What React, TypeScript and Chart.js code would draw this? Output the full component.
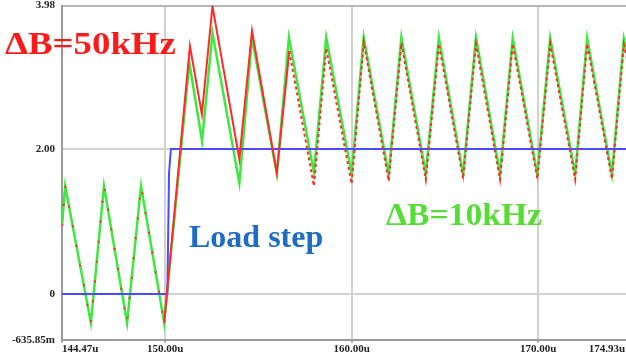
import React, { useEffect, useRef } from "react";
import { Chart, registerables } from "chart.js";

Chart.register(...registerables);

// ---- axis ticks ----
const xTickValues = [144.47, 150, 160, 170, 174.93];
const xTickLabels = ["144.47u", "150.00u", "160.00u", "170.00u", "174.93u"];
const yTickValues = [-0.63585, 0, 2, 3.98];
const yTickLabels = ["-635.85m", "0", "2.00", "3.98"];

// ---- load step (blue) ----
const loadTime = [144.47, 150.12, 150.21, 150.31, 174.93];
const loadCurrent = [0, 0, 1.67, 2.0, 2.0];

// ---- ripple, ΔB = 10 kHz (green) ----
const time10k = [
  144.47, 144.64, 146.02, 146.72, 147.96, 148.71, 149.95, 151.3, 151.98, 152.54,
  153.98, 154.66, 155.99, 156.64, 157.98, 158.64, 160.0, 160.65, 161.99, 162.67,
  163.98, 164.68, 165.98, 166.67, 167.96, 168.64, 169.96, 170.65, 171.99, 172.63,
  173.96, 174.6, 174.93,
];
const ripple10k = [
  0.94, 1.49, -0.4, 1.49, -0.4, 1.49, -0.4, 3.19, 2.11, 3.6,
  1.53, 3.53, 1.66, 3.54, 1.67, 3.54, 1.66, 3.54, 1.65, 3.54,
  1.66, 3.54, 1.65, 3.54, 1.66, 3.53, 1.65, 3.53, 1.66, 3.53,
  1.65, 3.52, 3.12,
];

// ---- ripple, ΔB = 50 kHz (red) ----
const time50k = [
  144.47, 144.64, 146.02, 146.72, 147.96, 148.71, 149.95, 151.33, 151.97, 152.54,
  153.98, 154.66, 155.99, 156.66, 157.98, 158.64, 160.0, 160.65, 161.99, 162.67,
  163.98, 164.68, 165.98, 166.67, 167.96, 168.64, 169.96, 170.65, 171.99, 172.63,
  173.96, 174.6, 174.93,
];
const ripple50k = [
  0.94, 1.49, -0.4, 1.49, -0.4, 1.49, -0.4, 3.42, 2.48, 3.97,
  1.86, 3.63, 1.67, 3.35, 1.49, 3.39, 1.52, 3.47, 1.56, 3.46,
  1.58, 3.45, 1.59, 3.45, 1.58, 3.45, 1.59, 3.45, 1.58, 3.45,
  1.59, 3.44, 3.05,
];

const zip = (xs: number[], ys: number[]) => xs.map((x, i) => ({ x, y: ys[i] }));

const FONT_FAMILY = "'Liberation Serif', serif";
const tickFont = { family: FONT_FAMILY, size: 11, weight: "bold" as const };
const VISIBLE_RIGHT = 625;

// draws the last x tick label right-aligned inside the visible window
const lastXLabelPlugin = {
  id: "lastXLabel",
  afterDraw(chart: any) {
    const sx = chart.scales.x;
    const ctx = chart.ctx;
    ctx.save();
    ctx.font = `bold ${tickFont.size}px ${FONT_FAMILY}`;
    ctx.fillStyle = "#222";
    ctx.textAlign = "right";
    ctx.textBaseline = "top";
    ctx.fillText(xTickLabels[xTickLabels.length - 1], VISIBLE_RIGHT, sx.top + 4);
    ctx.restore();
  },
};

export default function App() {
  const ref = useRef<HTMLCanvasElement | null>(null);

  useEffect(() => {
    if (!ref.current) return;
    const chart = new Chart(ref.current, {
      type: "line",
      data: {
        datasets: [
          {
            label: "ΔB=50kHz",
            data: zip(time50k, ripple50k),
            borderColor: "#ff2a2a",
            borderWidth: 2,
            pointRadius: 0,
            order: 0,
            segment: {
              borderDash: (ctx: any) => {
                const x0 = ctx.p0.parsed.x;
                if (x0 < 149.9) return [2, 18];
                if (x0 >= 156.6) return [3, 3];
                return undefined;
              },
            },
          },
          {
            label: "Load step",
            data: zip(loadTime, loadCurrent),
            borderColor: "#4a4aff",
            borderWidth: 2,
            pointRadius: 0,
            order: 1,
          },
          {
            label: "ΔB=10kHz",
            data: zip(time10k, ripple10k),
            borderColor: "#3ee83e",
            borderWidth: 2.5,
            pointRadius: 0,
            order: 2,
          },
        ],
      },
      plugins: [lastXLabelPlugin],
      options: {
        animation: false,
        responsive: false,
        devicePixelRatio: 1,
        layout: { padding: { top: 0, right: 10, left: 0, bottom: 0 } },
        plugins: { legend: { display: false }, tooltip: { enabled: false } },
        elements: { line: { tension: 0 } },
        scales: {
          x: {
            type: "linear",
            min: 144.47,
            max: 174.93,
            afterBuildTicks: (axis: any) => {
              axis.ticks = xTickValues.map((v) => ({ value: v }));
            },
            afterFit: (s: any) => {
              s.height = 15;
            },
            ticks: {
              align: "inner",
              autoSkip: false,
              maxRotation: 0,
              padding: 0,
              color: "#222",
              font: tickFont,
              callback: (_v: any, i: number) =>
                i === xTickLabels.length - 1 ? "" : xTickLabels[i],
            },
            grid: {
              color: (ctx: any) => {
                const v = ctx.tick?.value;
                return v === 150 || v === 160 || v === 170 ? "#d2d2d2" : "rgba(0,0,0,0)";
              },
              lineWidth: 2,
              tickLength: 3,
              tickColor: "#666",
              tickWidth: 1,
            },
            border: { color: "#9a9a9a", width: 2 },
          },
          y: {
            type: "linear",
            min: -0.63585,
            max: 3.98,
            afterBuildTicks: (axis: any) => {
              axis.ticks = yTickValues.map((v) => ({ value: v }));
            },
            afterFit: (s: any) => {
              s.width = 62;
            },
            ticks: {
              autoSkip: false,
              padding: 0,
              color: "#222",
              font: { ...tickFont, lineHeight: 1 },
              callback: (_v: any, i: number) => yTickLabels[i],
            },
            grid: {
              color: (ctx: any) => {
                const v = ctx.tick?.value;
                if (v === 3.98) return "#b8b8b8";
                return v === 0 || v === 2 ? "#d2d2d2" : "rgba(0,0,0,0)";
              },
              lineWidth: 2,
              tickLength: 7,
              tickColor: "rgba(0,0,0,0)",
              tickWidth: 1,
            },
            border: { color: "#9a9a9a", width: 2 },
          },
        },
      },
    } as any);
    return () => chart.destroy();
  }, []);

  const label: React.CSSProperties = {
    position: "absolute",
    fontFamily: "'Liberation Serif', 'Times New Roman', serif",
    fontWeight: "bold",
    fontSize: 32,
    lineHeight: 1,
    whiteSpace: "nowrap",
    margin: 0,
    transformOrigin: "0 0",
  };

  return (
    <div
      style={{
        position: "fixed",
        left: 0,
        top: 0,
        width: 626,
        height: 355,
        overflow: "hidden",
        background: "#fff",
      }}
    >
      <canvas
        ref={ref}
        width={640}
        height={355}
        style={{ position: "absolute", left: 0, top: 0, width: 640, height: 355 }}
      />
      <div style={{ ...label, left: 5, top: 27, color: "#ff1a1a", transform: "scaleX(1.15)" }}>ΔB=50kHz</div>
      <div style={{ ...label, left: 189, top: 220, color: "#1f6cc4" }}>Load step</div>
      <div style={{ ...label, left: 386, top: 198, color: "#55dd33", transform: "scaleX(1.05)" }}>ΔB=10kHz</div>
    </div>
  );
}
